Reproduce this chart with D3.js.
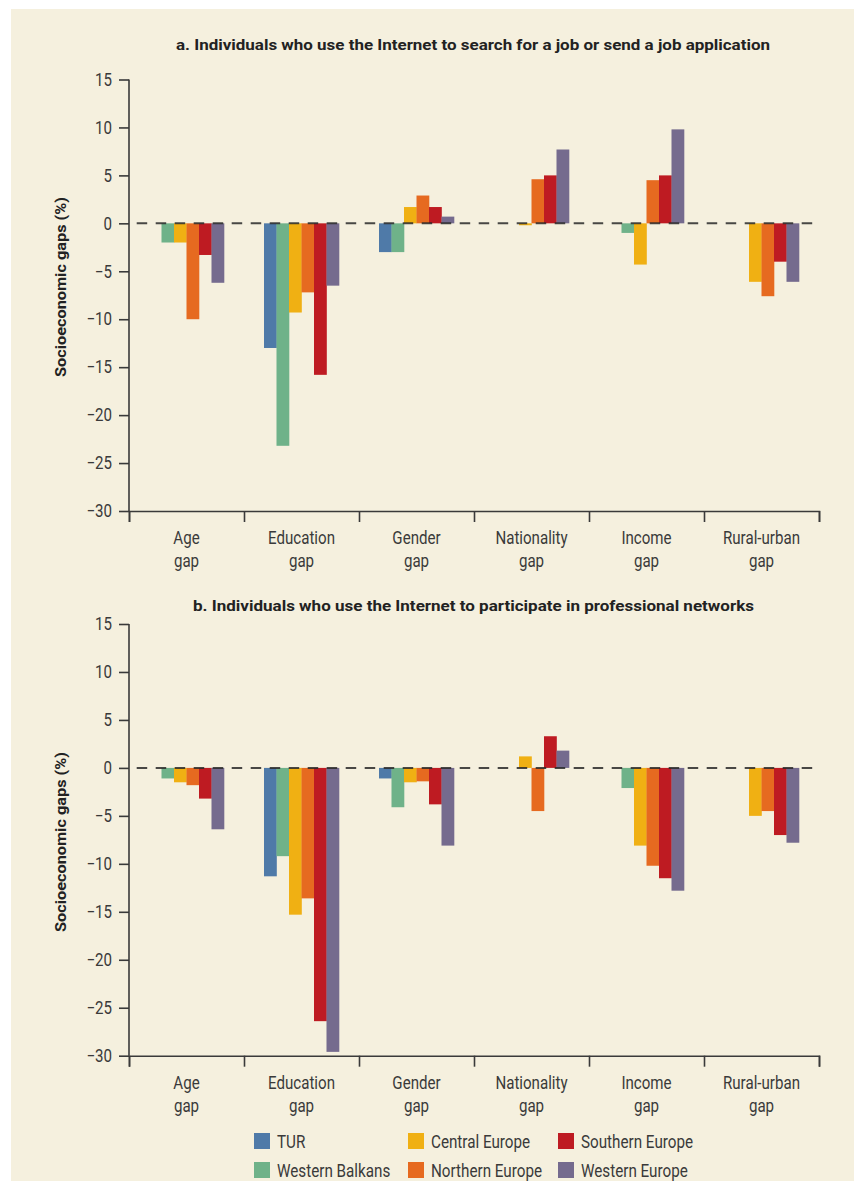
<!DOCTYPE html>
<html>
<head>
<meta charset="utf-8">
<script src="https://cdn.jsdelivr.net/npm/d3@7"></script>
<style>
  html, body { margin: 0; padding: 0; background: #ffffff; }
  svg { display: block; }
  .narrow { font-family: "Liberation Sans Narrow", "Roboto", "DejaVu Sans", sans-serif; }
</style>
</head>
<body>
<svg id="chart" width="854" height="1181"></svg>
<script>
// ---------- data ----------
const categories = ["Age gap", "Education gap", "Gender gap", "Nationality gap", "Income gap", "Rural-urban gap"];
const seriesNames = ["TUR", "Western Balkans", "Central Europe", "Northern Europe", "Southern Europe", "Western Europe"];
const seriesColors = ["#4f7aa8", "#6fb289", "#f0b013", "#e66a20", "#be1b22", "#756b8e"];
const yTicks = [15, 10, 5, 0, -5, -10, -15, -20, -25, -30];

const titleA = "a. Individuals who use the Internet to search for a job or send a job application";
const titleB = "b. Individuals who use the Internet to participate in professional networks";
const yLabel = "Socioeconomic gaps (%)";

// panel a: values per series, in category order
const aTUR  = [0, -13.0, -3.0, 0, 0, 0];
const aWB   = [-2.0, -23.2, -3.0, 0, -1.0, 0];
const aCE   = [-2.0, -9.3, 1.7, -0.2, -4.3, -6.1];
const aNE   = [-10.0, -7.2, 2.9, 4.6, 4.5, -7.6];
const aSE   = [-3.3, -15.8, 1.7, 5.0, 5.0, -4.0];
const aWE   = [-6.2, -6.5, 0.7, 7.7, 9.8, -6.1];

// panel b
const bTUR  = [0, -11.3, -1.1, 0, 0, 0];
const bWB   = [-1.1, -9.2, -4.1, 0, -2.1, 0];
const bCE   = [-1.5, -15.3, -1.5, 1.2, -8.1, -5.0];
const bNE   = [-1.8, -13.6, -1.4, -4.5, -10.2, -4.5];
const bSE   = [-3.2, -26.4, -3.8, 3.3, -11.5, -7.0];
const bWE   = [-6.4, -29.6, -8.1, 1.8, -12.8, -7.8];

const panelA = [aTUR, aWB, aCE, aNE, aSE, aWE];
const panelB = [bTUR, bWB, bCE, bNE, bSE, bWE];

// ---------- drawing ----------
const svg = d3.select("#chart");
const ink = "#3a3a3a";
const SX = 0.84; // horizontal condensing of text

svg.append("rect").attr("x", 11).attr("y", 9).attr("width", 854 - 11).attr("height", 1181 - 9)
  .attr("fill", "#f5f0de");

const plotLeft = 129, plotRight = 819;

function drawPanel(values, title, top, bottom, titleY, titleX0, titleX1, labelCenterY) {
  const g = svg.append("g");
  const y = d3.scaleLinear().domain([15, -30]).range([top, bottom]);
  const x = d3.scaleBand().domain(categories).range([plotLeft, plotRight]).paddingInner(0).paddingOuter(0);
  const groupW = 75;
  const xs = d3.scaleBand().domain(seriesNames).range([0, groupW]).padding(0);
  const offset = (x.bandwidth() - groupW) / 2;

  // bars
  seriesNames.forEach((s, si) => {
    g.append("g").selectAll("rect")
      .data(values[si].map((v, ci) => ({ v, c: categories[ci] })))
      .join("rect")
      .attr("x", d => x(d.c) + offset + xs(s))
      .attr("width", xs.bandwidth() + 0.3)
      .attr("y", d => y(Math.max(0, d.v)))
      .attr("height", d => Math.abs(y(d.v) - y(0)))
      .attr("fill", seriesColors[si]);
  });

  // zero dashed line
  g.append("line")
    .attr("x1", 136.7).attr("x2", plotRight)
    .attr("y1", y(0)).attr("y2", y(0))
    .attr("stroke", "#2a2a2a").attr("stroke-width", 2)
    .attr("stroke-dasharray", "10.5 8.5").attr("opacity", 0.85);

  // y axis
  const yAxis = g.append("g").attr("transform", `translate(${plotLeft},0)`)
    .call(d3.axisLeft(y).tickValues(yTicks).tickSize(10).tickPadding(7)
      .tickFormat(d => d < 0 ? "\u2212" + Math.abs(d) : d));
  yAxis.select(".domain").remove();
  yAxis.selectAll(".tick line").attr("stroke", ink).attr("stroke-width", 1.6);
  yAxis.selectAll(".tick text")
    .attr("fill", ink)
    .attr("x", -17 / SX)
    .attr("transform", `scale(${SX},1)`)
    .style("font-size", "18px")
    .style("font-family", '"Liberation Sans Narrow", "Roboto", sans-serif');
  g.append("line").attr("x1", plotLeft).attr("x2", plotLeft).attr("y1", y(15)).attr("y2", y(-30))
    .attr("stroke", ink).attr("stroke-width", 1.6);

  // x axis boundary ticks
  const xb = d3.scaleLinear().domain([0, categories.length]).range([plotLeft, plotRight]);
  const xAxis = g.append("g").attr("transform", `translate(0,${y(-30)})`)
    .call(d3.axisBottom(xb).tickValues(d3.range(categories.length + 1)).tickSize(11).tickFormat(""));
  xAxis.select(".domain").attr("stroke", ink).attr("stroke-width", 1.6);
  xAxis.selectAll(".tick line").attr("stroke", ink).attr("stroke-width", 1.6);

  // category labels (two lines)
  const lab = g.append("g").selectAll("text").data(categories).join("text")
    .attr("class", "narrow")
    .attr("text-anchor", "middle")
    .attr("fill", ink)
    .style("font-size", "18px")
    .attr("transform", d => `translate(${x(d) + x.bandwidth() / 2},${y(-30) + 33}) scale(${SX},1)`);
  lab.append("tspan").attr("x", 0).attr("y", 0).text(d => d.replace(/ gap$/, ""));
  lab.append("tspan").attr("x", 0).attr("y", 23).text("gap");

  // title
  g.append("text")
    .attr("x", titleX0).attr("y", titleY)
    .attr("textLength", titleX1 - titleX0).attr("lengthAdjust", "spacingAndGlyphs")
    .attr("fill", "#222")
    .style("font-family", '"Liberation Sans Narrow", "Roboto", sans-serif')
    .style("font-weight", "bold").style("font-size", "15.5px")
    .text(title);

  // y label
  g.append("text")
    .attr("transform", `translate(66,${labelCenterY}) rotate(-90)`)
    .attr("text-anchor", "middle")
    .attr("fill", "#222")
    .attr("textLength", 180).attr("lengthAdjust", "spacingAndGlyphs")
    .style("font-family", '"Liberation Sans Narrow", "Roboto", sans-serif')
    .style("font-weight", "bold").style("font-size", "15.5px")
    .text(yLabel);
}

drawPanel(panelA, titleA, 79.5, 511, 50, 176, 770, 287);
drawPanel(panelB, titleB, 624, 1055.7, 611, 193, 754, 842);

// legend
const legendPos = [
  [254, 1133], [254, 1162],
  [408, 1133], [408, 1162],
  [558, 1133], [558, 1162]
];
const order = [0, 1, 2, 3, 4, 5];
const leg = svg.append("g").selectAll("g").data(order).join("g")
  .attr("transform", (d, i) => `translate(${legendPos[i][0]},${legendPos[i][1]})`);
leg.append("rect").attr("width", 16).attr("height", 16).attr("fill", d => seriesColors[d]);
leg.append("text")
  .attr("transform", `translate(23,14.5) scale(0.87,1)`)
  .attr("class", "narrow").attr("fill", ink).style("font-size", "17.5px")
  .text(d => seriesNames[d]);
</script>
</body>
</html>
